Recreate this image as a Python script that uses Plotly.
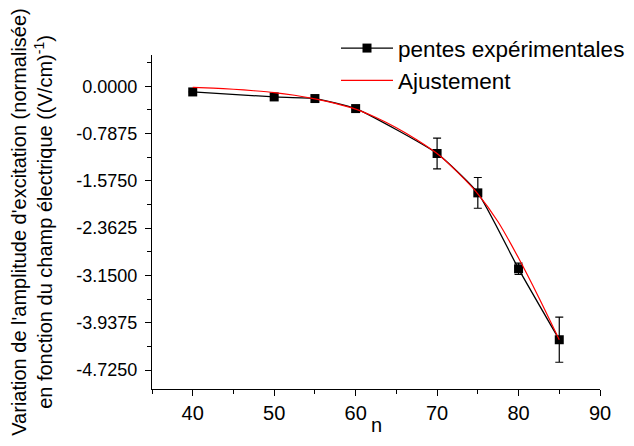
import plotly.graph_objects as go

# pentes expérimentales
n_exp = [40, 50, 55, 60, 70, 75, 80, 85]
pente = [-0.095, -0.178, -0.205, -0.372, -1.12, -1.775, -3.04, -4.22]
erreur = [0, 0, 0, 0, 0.256, 0.256, 0.094, 0.375]

# courbe d'ajustement
n_fit = [40, 42.5, 45, 47.5, 50, 52.5, 55, 57.5, 60, 62.5, 65, 67.5, 70, 72.5, 75, 77.5, 80, 82.5, 85]
ajust = [-0.02, -0.033, -0.05, -0.075, -0.105, -0.15, -0.21, -0.285, -0.38, -0.52, -0.69, -0.89,
         -1.12, -1.43, -1.79, -2.26, -2.86, -3.52, -4.22]

y_ticks = [0.0, -0.7875, -1.575, -2.3625, -3.15, -3.9375, -4.725]
y_labels = ['0.0000', '-0.7875', '-1.5750', '-2.3625', '-3.1500', '-3.9375', '-4.7250']
x_ticks = [40, 50, 60, 70, 80, 90]

police = 'Arial, Liberation Sans, sans-serif'

fig = go.Figure()
fig.add_trace(go.Scatter(
    x=n_exp, y=pente, mode='lines+markers', name='pentes expérimentales',
    line=dict(color='black', width=1.3, shape='spline', smoothing=0.5),
    marker=dict(symbol='square', size=9, color='black'),
    error_y=dict(type='data', array=erreur, color='black', thickness=1.2, width=4, visible=True),
))
fig.add_trace(go.Scatter(
    x=n_fit, y=ajust, mode='lines', name='Ajustement',
    line=dict(color='red', width=1.2, shape='spline', smoothing=0.6),
))

# la page ajoute 8 px de marge autour de la figure
fig.update_layout(
    width=618, height=430,
    margin=dict(l=144, r=26, t=47, b=49, autoexpand=False),
    plot_bgcolor='white', paper_bgcolor='white',
    font=dict(family=police, color='black'),
    legend=dict(x=(328 - 144) / 448, y=1.084, xanchor='left', yanchor='top',
                font=dict(size=22.5), bgcolor='rgba(0,0,0,0)',
                itemwidth=52, tracegroupgap=0),
)
# titre de l'axe x en annotation, collé au bas de la figure
fig.add_annotation(text='n', xref='paper', yref='paper', x=0.5, y=-0.146,
                   xanchor='center', yanchor='bottom', showarrow=False,
                   font=dict(size=20))
fig.update_xaxes(
    range=[35, 90], tickvals=x_ticks, showline=True, linecolor='black', linewidth=1.3,
    ticks='outside', ticklen=6, tickcolor='black', tickfont=dict(size=20),
    minor=dict(ticks='outside', ticklen=4, tickcolor='black', dtick=5, tick0=35),
    showgrid=False, zeroline=False, mirror=False, automargin=False,
)
fig.update_yaxes(
    range=[-5.04, 0.52], tickvals=y_ticks, ticktext=y_labels, showline=True,
    linecolor='black', linewidth=1.3,
    ticks='outside', ticklen=6, tickcolor='black', tickfont=dict(size=18),
    ticklabelstandoff=4,
    minor=dict(ticks='outside', ticklen=4, tickcolor='black', dtick=0.39375, tick0=0),
    showgrid=False, zeroline=False, mirror=False, automargin=False,
    title=dict(text="Variation de l'amplitude d'excitation (normalisée)<br>"
                    "en fonction du champ électrique ((V/cm)<sup>-1</sup>)",
               font=dict(size=20), standoff=21),
)

fig.write_html("out.html")
